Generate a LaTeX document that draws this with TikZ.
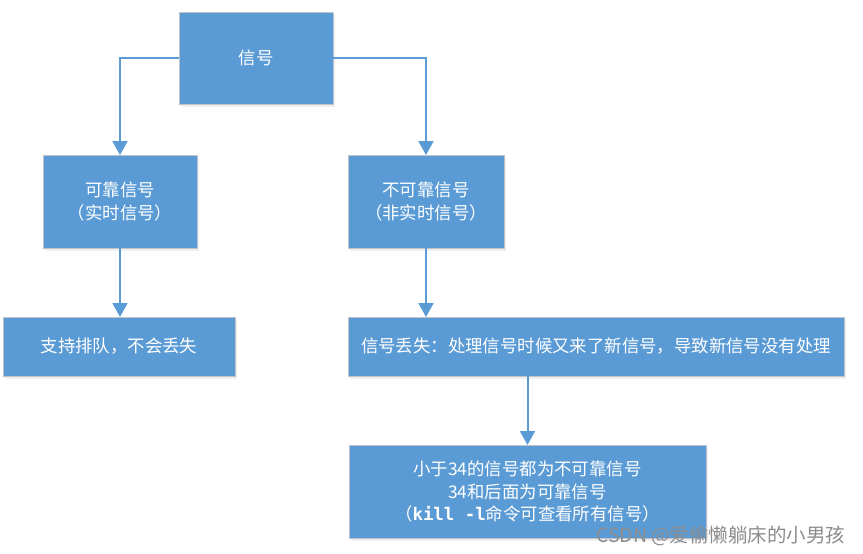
\documentclass[tikz,border=0pt]{standalone}
\usepackage{fontspec}
\setmainfont{Noto Sans CJK SC}
\setmonofont{DejaVu Sans Mono}
\usetikzlibrary{positioning,calc,arrows.meta,shadows}
\definecolor{boxblue}{HTML}{5B9BD5}
\definecolor{boxline}{HTML}{BFC4CC}

\begin{document}
\begin{tikzpicture}[
    x=1pt, y=-1pt,
    box/.style={draw=boxline, line width=0.8pt, fill=boxblue, text=white, inner sep=0pt, outer sep=0pt,
        align=center, font=\fontsize{17.4}{22.5}\selectfont,
        drop shadow={opacity=0.12, shadow xshift=1.5pt, shadow yshift=-2.5pt}},
    arr/.style={-{Triangle[width=15pt, length=14pt]}, line width=2pt, draw=boxblue},
    watermark/.style={font=\fontsize{19.5}{22}\selectfont, text=black!45},
]
    \useasboundingbox[fill=white] (0,0) rectangle (863,554);

    % === ROOT ===
    \node[box, minimum width=154pt, minimum height=92pt] (signal) at (256, 58) {信号};

    % === KINDS ===
    \node[box, minimum width=154pt, minimum height=93pt] (reliable) at (120, 201.5) {可靠信号\\（实时信号）};
    \node[box, minimum width=156pt, minimum height=93pt] (unreliable) at (426, 201.5) {不可靠信号\\（非实时信号）};

    % === RESULTS ===
    \node[box, minimum width=232pt, minimum height=59pt] (queue) at (119, 346.5) {支持排队，不会丢失};
    \node[box, minimum width=496pt, minimum height=59pt] (lost) at (596, 346.5) {信号丢失：处理信号时候又来了新信号，导致新信号没有处理};

    % === NOTE ===
    \node[box, minimum width=357pt, minimum height=93pt] (note) at (527.5, 491.5)
        {小于34的信号都为不可靠信号\\34和后面为可靠信号\\（{\ttfamily\bfseries kill -l}命令可查看所有信号）};

    % === WATERMARK ===
    \node[watermark, anchor=east] (csdn) at (849, 536) {CSDN @爱偷懒躺床的小男孩};

    % === ARROWS ===
    \draw[arr] (signal.west) -| (reliable.north);
    \draw[arr] (signal.east) -| (unreliable.north);
    \draw[arr] (reliable.south) -- (queue.north -| reliable.south);
    \draw[arr] (unreliable.south) -- (unreliable.south |- lost.north);
    \draw[arr] (note.north |- lost.south) -- (note.north);
\end{tikzpicture}
\end{document}
